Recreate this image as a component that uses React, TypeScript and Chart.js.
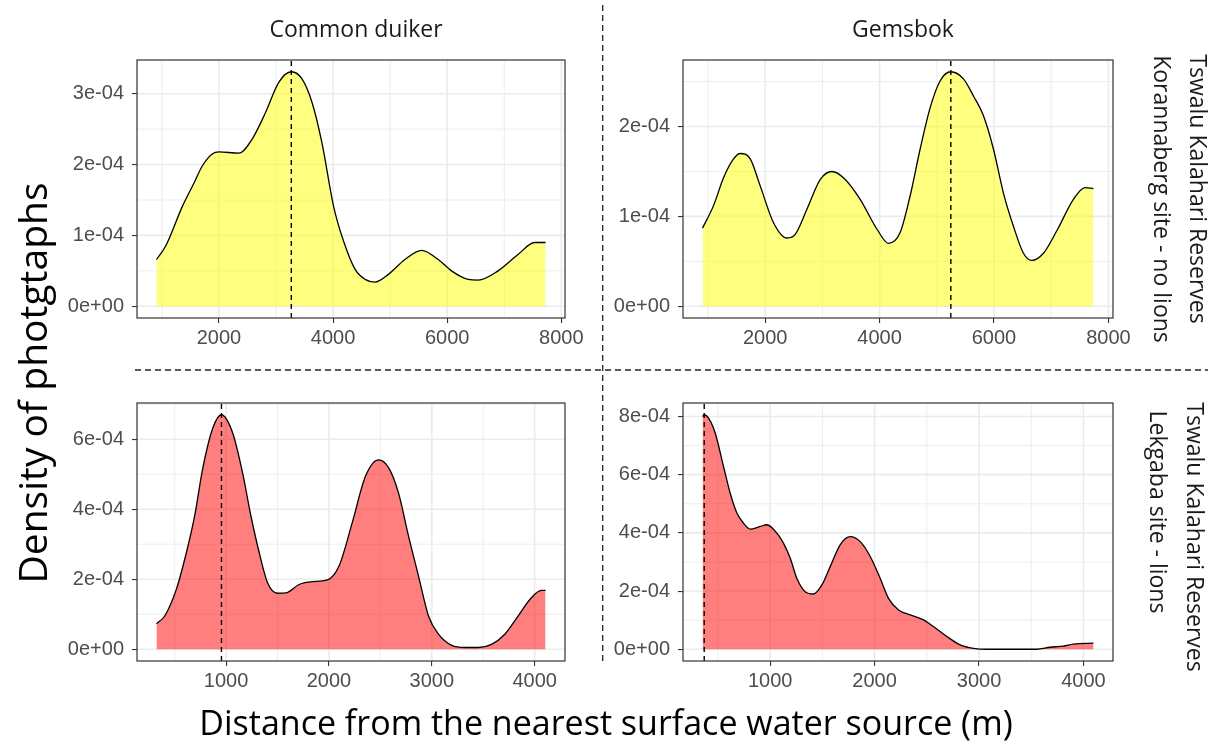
import React, { useEffect, useRef } from "react";
import { Chart, registerables } from "chart.js";

Chart.register(...registerables);

// Distance to water (m) and photo density (in units of 1e-4) for each panel
const duikerNoLionsDist = [905, 1067, 1359, 1563, 1708, 1883, 2000, 2350, 2582, 2814, 3048, 3268, 3455, 3630, 3804, 4009, 4183, 4386, 4561, 4736, 4969, 5259, 5551, 5842, 6075, 6366, 6541, 6891, 7240, 7530, 7723];
const duikerNoLionsDens = [0.66, 0.85, 1.41, 1.74, 1.98, 2.15, 2.18, 2.16, 2.36, 2.73, 3.16, 3.31, 3.21, 2.88, 2.31, 1.41, 0.92, 0.52, 0.38, 0.34, 0.45, 0.66, 0.79, 0.66, 0.5, 0.38, 0.37, 0.5, 0.73, 0.9, 0.9];

const gemsbokNoLionsDist = [904, 1096, 1271, 1446, 1563, 1738, 1912, 2145, 2379, 2524, 2729, 2961, 3166, 3368, 3660, 3952, 4155, 4359, 4534, 4709, 4884, 5059, 5245, 5466, 5641, 5816, 5990, 6165, 6340, 6515, 6661, 6864, 7098, 7389, 7593, 7739];
const gemsbokNoLionsDens = [0.87, 1.12, 1.43, 1.64, 1.7, 1.64, 1.34, 0.93, 0.76, 0.8, 1.08, 1.41, 1.5, 1.43, 1.19, 0.86, 0.7, 0.82, 1.23, 1.75, 2.21, 2.51, 2.61, 2.53, 2.34, 2.12, 1.75, 1.26, 0.89, 0.59, 0.51, 0.59, 0.84, 1.19, 1.32, 1.31];

const duikerLionsDist = [323, 403, 516, 613, 694, 774, 871, 955, 1065, 1161, 1242, 1323, 1403, 1500, 1581, 1710, 1839, 1984, 2097, 2226, 2355, 2484, 2581, 2677, 2774, 2871, 2968, 3065, 3194, 3323, 3452, 3581, 3710, 3839, 3968, 4065, 4106];
const duikerLionsDens = [0.73, 0.95, 1.71, 2.75, 3.8, 5.18, 6.32, 6.7, 6.17, 5.03, 3.8, 2.75, 1.9, 1.6, 1.61, 1.85, 1.93, 1.98, 2.37, 3.61, 4.94, 5.41, 5.18, 4.46, 3.23, 2.09, 0.95, 0.43, 0.11, 0.05, 0.05, 0.14, 0.43, 0.95, 1.47, 1.68, 1.68];

const gemsbokLionsDist = [352, 368, 410, 473, 553, 617, 681, 745, 808, 904, 968, 1064, 1128, 1192, 1255, 1335, 1415, 1495, 1575, 1670, 1766, 1862, 1958, 2053, 2133, 2229, 2341, 2468, 2564, 2692, 2819, 2947, 3075, 3330, 3553, 3681, 3809, 3904, 4096];
const gemsbokLionsDens = [8.0, 8.06, 7.94, 7.43, 6.28, 5.36, 4.68, 4.33, 4.13, 4.22, 4.28, 3.99, 3.64, 3.13, 2.44, 1.98, 1.9, 2.21, 2.84, 3.59, 3.87, 3.7, 3.19, 2.44, 1.75, 1.35, 1.18, 1.01, 0.78, 0.44, 0.15, 0.03, 0.0, 0.0, 0.0, 0.07, 0.11, 0.18, 0.21];

// Distance at the density peak (dashed marker)
const peakDist = [3268, 5245, 955, 368];

// Axis breaks and labels
const xTicksKoranna = [2000, 4000, 6000, 8000];
const xTicksLekgaba = [1000, 2000, 3000, 4000];
const yTicksDuikerNoLions = [0, 1, 2, 3];
const yLabelsDuikerNoLions = ["0e+00", "1e-04", "2e-04", "3e-04"];
const yTicksGemsbokNoLions = [0, 1, 2];
const yLabelsGemsbokNoLions = ["0e+00", "1e-04", "2e-04"];
const yTicksDuikerLions = [0, 2, 4, 6];
const yLabelsDuikerLions = ["0e+00", "2e-04", "4e-04", "6e-04"];
const yTicksGemsbokLions = [0, 2, 4, 6, 8];
const yLabelsGemsbokLions = ["0e+00", "2e-04", "4e-04", "6e-04", "8e-04"];

const speciesTitles = ["Common duiker", "Gemsbok"];
const siteLabels = [
  ["Tswalu Kalahari Reserves", "Korannaberg site - no lions"],
  ["Tswalu Kalahari Reserves", "Lekgaba site - lions"],
];
const yTitle = "Density of photgtaphs";
const xTitle = "Distance from the nearest surface water source (m)";

const FILL_NO_LIONS = "rgba(255,255,0,0.5)";
const FILL_LIONS = "rgba(255,0,0,0.5)";

// Panel plot-area rectangles
const COL_LEFT = [136.7, 683.3];
const COL_WIDTH = [428.3, 430];
const ROW_TOP = [60, 403.3];
const ROW_HEIGHT = [258, 258.4];

const PAD_LEFT = 90;
const PAD_TOP = 20;
const PAD_RIGHT = 30;
const PAD_BOTTOM = 40;

type PanelProps = {
  dist: number[];
  dens: number[];
  peak: number;
  fill: string;
  xTicks: number[];
  yTicks: number[];
  yLabels: string[];
  col: number;
  row: number;
};

function minorBreaks(major: number[], lo: number, hi: number): number[] {
  const step = major[1] - major[0];
  const out: number[] = [];
  for (let v = major[0] - step / 2; v <= major[major.length - 1] + step; v += step) {
    if (v > lo && v < hi) out.push(v);
  }
  return out;
}

function DensityPanel(p: PanelProps) {
  const ref = useRef<HTMLCanvasElement | null>(null);
  const plotW = COL_WIDTH[p.col];
  const plotH = ROW_HEIGHT[p.row];
  const cw = Math.round(PAD_LEFT + plotW + PAD_RIGHT);
  const ch = Math.round(PAD_TOP + plotH + PAD_BOTTOM);

  useEffect(() => {
    if (!ref.current) return;
    const xMin = p.dist[0];
    const xMax = p.dist[p.dist.length - 1];
    const xPad = (xMax - xMin) * 0.05;
    const yMax = Math.max(...p.dens);
    const yLo = -0.05 * yMax;
    const yHi = 1.05 * yMax;
    const xLo = xMin - xPad;
    const xHi = xMax + xPad;
    const xMinor = minorBreaks(p.xTicks, xLo, xHi);
    const yMinor = minorBreaks(p.yTicks, yLo, yHi);

    const frame = {
      id: "panelFrame",
      beforeDatasetsDraw(chart: any) {
        const { ctx, chartArea: a, scales } = chart;
        ctx.save();
        ctx.strokeStyle = "#EBEBEB";
        ctx.lineWidth = 0.9;
        for (const v of xMinor) {
          const x = scales.x.getPixelForValue(v);
          ctx.beginPath(); ctx.moveTo(x, a.top); ctx.lineTo(x, a.bottom); ctx.stroke();
        }
        for (const v of yMinor) {
          const y = scales.y.getPixelForValue(v);
          ctx.beginPath(); ctx.moveTo(a.left, y); ctx.lineTo(a.right, y); ctx.stroke();
        }
        ctx.lineWidth = 1.6;
        for (const v of p.xTicks) {
          const x = scales.x.getPixelForValue(v);
          if (x < a.left || x > a.right) continue;
          ctx.beginPath(); ctx.moveTo(x, a.top); ctx.lineTo(x, a.bottom); ctx.stroke();
        }
        for (const v of p.yTicks) {
          const y = scales.y.getPixelForValue(v);
          ctx.beginPath(); ctx.moveTo(a.left, y); ctx.lineTo(a.right, y); ctx.stroke();
        }
        ctx.restore();
      },
      afterDatasetsDraw(chart: any) {
        const { ctx, chartArea: a } = chart;
        ctx.save();
        ctx.strokeStyle = "#333333";
        ctx.lineWidth = 1.2;
        ctx.strokeRect(a.left, a.top, a.right - a.left, a.bottom - a.top);
        ctx.restore();
      },
    };

    const tickFont = { family: "'Liberation Sans', Arial, sans-serif", size: 20 };

    const chart = new Chart(ref.current, {
      type: "line",
      data: {
        datasets: [
          {
            data: [
              { x: p.peak, y: yLo },
              { x: p.peak, y: yHi },
            ],
            borderColor: "#000000",
            borderWidth: 1.4,
            borderDash: [5, 4],
            pointRadius: 0,
            fill: false,
          },
          {
            data: p.dist.map((x, i) => ({ x, y: p.dens[i] })),
            borderColor: "#000000",
            borderWidth: 1.3,
            backgroundColor: p.fill,
            fill: "origin",
            pointRadius: 0,
            cubicInterpolationMode: "monotone",
          },
        ],
      },
      options: {
        animation: false,
        responsive: false,
        maintainAspectRatio: false,
        devicePixelRatio: 1,
        layout: { padding: { top: PAD_TOP, right: PAD_RIGHT, left: 0, bottom: 0 } },
        plugins: { legend: { display: false }, tooltip: { enabled: false } },
        scales: {
          x: {
            type: "linear",
            min: xLo,
            max: xHi,
            afterBuildTicks: (s: any) => {
              s.ticks = p.xTicks.map((v) => ({ value: v }));
            },
            afterFit: (s: any) => {
              s.height = PAD_BOTTOM;
            },
            grid: { drawOnChartArea: false, tickLength: 5, color: "#333333", lineWidth: 1.1 },
            border: { display: false },
            ticks: {
              color: "#4D4D4D",
              font: tickFont,
              padding: 3,
              maxRotation: 0,
              autoSkip: false,
              callback: (v: any) => String(v),
            },
          },
          y: {
            type: "linear",
            min: yLo,
            max: yHi,
            afterBuildTicks: (s: any) => {
              s.ticks = p.yTicks.map((v) => ({ value: v }));
            },
            afterFit: (s: any) => {
              s.width = PAD_LEFT;
            },
            grid: { drawOnChartArea: false, tickLength: 5, color: "#333333", lineWidth: 1.1 },
            border: { display: false },
            ticks: {
              color: "#4D4D4D",
              font: tickFont,
              padding: 8,
              autoSkip: false,
              callback: (v: any) => {
                const i = p.yTicks.indexOf(v);
                return i >= 0 ? p.yLabels[i] : "";
              },
            },
          },
        },
      },
      plugins: [frame],
    } as any);
    return () => chart.destroy();
  }, []);

  return (
    <canvas
      ref={ref}
      width={cw}
      height={ch}
      style={{
        position: "absolute",
        left: COL_LEFT[p.col] - PAD_LEFT,
        top: ROW_TOP[p.row] - PAD_TOP,
        width: cw,
        height: ch,
      }}
    />
  );
}

const labelBase: React.CSSProperties = {
  position: "absolute",
  whiteSpace: "nowrap",
  lineHeight: 1,
  fontFamily: "'Open Sans', 'Noto Sans', sans-serif",
  color: "#1A1A1A",
};

function Label(props: { text: string; x: number; y: number; size: number; rotate?: number; color?: string }) {
  return (
    <div
      style={{
        ...labelBase,
        left: props.x,
        top: props.y,
        fontSize: props.size,
        color: props.color ?? labelBase.color,
        transform: `translate(-50%, -50%) rotate(${props.rotate ?? 0}deg)`,
      }}
    >
      {props.text}
    </div>
  );
}

export default function App() {
  return (
    <div
      style={{
        position: "fixed",
        left: 0,
        top: 0,
        width: 1225,
        height: 747,
        background: "#FFFFFF",
        overflow: "hidden",
      }}
    >
      <DensityPanel dist={duikerNoLionsDist} dens={duikerNoLionsDens} peak={peakDist[0]} fill={FILL_NO_LIONS}
        xTicks={xTicksKoranna} yTicks={yTicksDuikerNoLions} yLabels={yLabelsDuikerNoLions} col={0} row={0} />
      <DensityPanel dist={gemsbokNoLionsDist} dens={gemsbokNoLionsDens} peak={peakDist[1]} fill={FILL_NO_LIONS}
        xTicks={xTicksKoranna} yTicks={yTicksGemsbokNoLions} yLabels={yLabelsGemsbokNoLions} col={1} row={0} />
      <DensityPanel dist={duikerLionsDist} dens={duikerLionsDens} peak={peakDist[2]} fill={FILL_LIONS}
        xTicks={xTicksLekgaba} yTicks={yTicksDuikerLions} yLabels={yLabelsDuikerLions} col={0} row={1} />
      <DensityPanel dist={gemsbokLionsDist} dens={gemsbokLionsDens} peak={peakDist[3]} fill={FILL_LIONS}
        xTicks={xTicksLekgaba} yTicks={yTicksGemsbokLions} yLabels={yLabelsGemsbokLions} col={1} row={1} />

      <svg width={1225} height={747} style={{ position: "absolute", left: 0, top: 0, pointerEvents: "none" }}>
        <line x1={602.7} y1={5} x2={602.7} y2={663} stroke="#222" strokeWidth={1.3} strokeDasharray="6 4" />
        <line x1={135} y1={370} x2={1208} y2={370} stroke="#222" strokeWidth={1.3} strokeDasharray="6 4" />
      </svg>

      <Label text={speciesTitles[0]} x={356} y={28} size={23} />
      <Label text={speciesTitles[1]} x={903} y={28} size={23} />

      <Label text={siteLabels[0][0]} x={1198} y={189} size={23} rotate={90} />
      <Label text={siteLabels[0][1]} x={1162} y={199} size={23} rotate={90} />
      <Label text={siteLabels[1][0]} x={1195} y={537} size={23} rotate={90} />
      <Label text={siteLabels[1][1]} x={1158} y={512} size={23} rotate={90} />

      <Label text={yTitle} x={31} y={383} size={39} rotate={-90} color="#000000" />
      <Label text={xTitle} x={606} y={722} size={34} color="#000000" />
    </div>
  );
}
